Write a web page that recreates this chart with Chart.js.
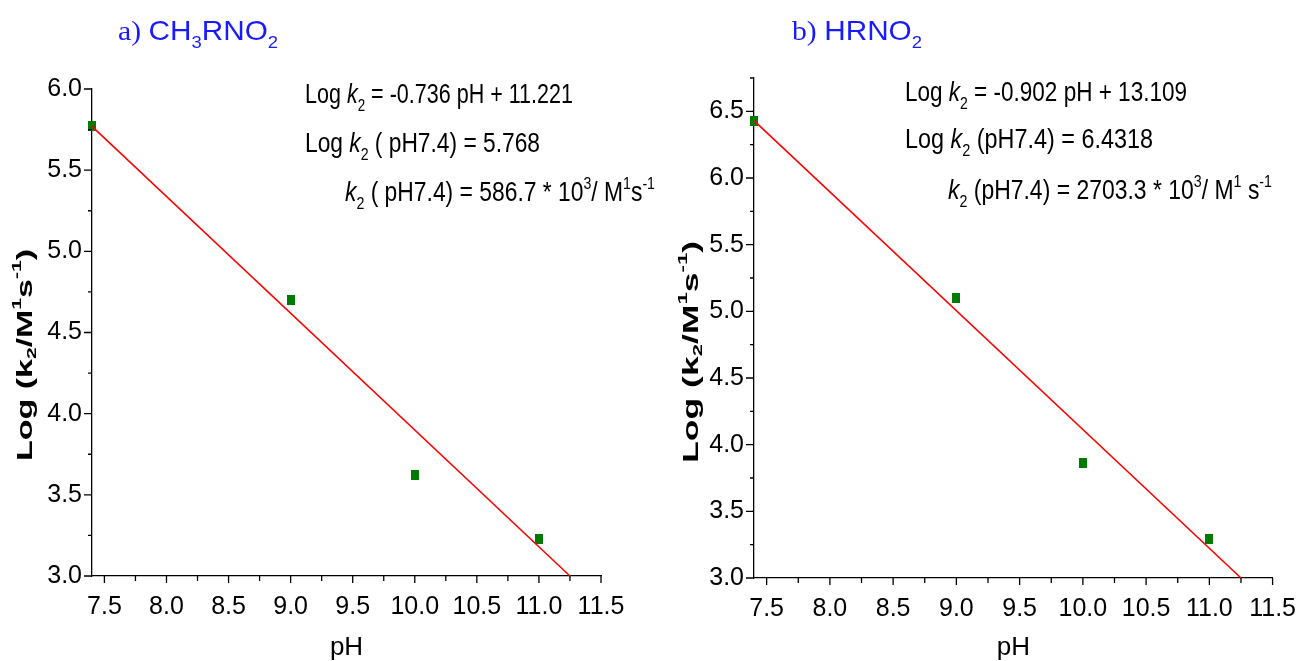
<!DOCTYPE html>
<html>
<head>
<meta charset="utf-8">
<script src="https://cdn.jsdelivr.net/npm/chart.js@4.4.1/dist/chart.umd.min.js"></script>
<style>
  html, body { margin: 0; padding: 0; background: #fff; }
  #wrap { position: relative; width: 1312px; height: 661px; overflow: hidden; }
  canvas { position: absolute; top: 0; }
  #chartA { left: 0; }
  #chartB { left: 656px; }
</style>
</head>
<body>
<div id="wrap">
  <canvas id="chartA" width="700" height="661"></canvas>
  <canvas id="chartB" width="656" height="661"></canvas>
</div>
<script>
// measured pH values
const phValues = [7.4, 9.0, 10.0, 11.0];
// log k2
const logK2Methyl = [5.77, 4.70, 3.62, 3.23];
const logK2Hydro = [6.43, 5.10, 3.86, 3.29];
// end points of the fitted lines (as drawn)
const fitPh = [7.4, 11.25];
const fitMethyl = [5.77, 3.0];
const fitHydro = [6.43, 3.0];
// labelled ticks
const xTicks = [7.5, 8.0, 8.5, 9.0, 9.5, 10.0, 10.5, 11.0, 11.5];
const yTicksA = [3.0, 3.5, 4.0, 4.5, 5.0, 5.5, 6.0];
const yTicksB = [3.0, 3.5, 4.0, 4.5, 5.0, 5.5, 6.0, 6.5];

const SANS = "'Liberation Sans', Arial, sans-serif";
const SERIF = "'Liberation Serif', 'Times New Roman', serif";

// small green rectangle used as marker
const marker = document.createElement('canvas');
marker.width = 8;
marker.height = 10;
const mctx = marker.getContext('2d');
mctx.fillStyle = '#007a00';
mctx.fillRect(0, 0, 8, 10);

// draws a run of text pieces (italic / sub / sup), fitted to a given width
function drawRich(ctx, t) {
  const size = t.size;
  const fontOf = p => {
    const s = (p.sub || p.sup) ? size * 0.62 : size;
    return (p.i ? 'italic ' : '') + (t.bold ? 'bold ' : '') + s + 'px ' + (p.serif ? SERIF : SANS);
  };
  let total = 0;
  t.parts.forEach(p => { ctx.font = fontOf(p); total += ctx.measureText(p.t).width; });
  const sx = t.w ? t.w / total : 1;
  ctx.save();
  ctx.translate(t.x, t.y);
  if (t.rot) ctx.rotate(t.rot);
  ctx.scale(sx, 1);
  ctx.fillStyle = t.color || '#000';
  ctx.textBaseline = t.rot ? 'middle' : 'alphabetic';
  let cx = t.rot ? -total / 2 : 0;
  t.parts.forEach(p => {
    ctx.font = fontOf(p);
    let dy = 0;
    if (p.sub) dy = size * 0.3;
    if (p.sup) dy = -size * 0.42;
    ctx.fillText(p.t, cx, dy);
    cx += ctx.measureText(p.t).width;
  });
  ctx.restore();
}

const extrasPlugin = {
  id: 'extras',
  afterDraw(chart, args, opts) {
    const { ctx, scales: { x, y } } = chart;
    ctx.save();
    ctx.strokeStyle = '#000';
    ctx.lineWidth = 1.3;
    ctx.beginPath();
    // x ticks, major and minor, pointing down
    xTicks.forEach(v => {
      const px = x.getPixelForValue(v);
      ctx.moveTo(px, y.bottom); ctx.lineTo(px, y.bottom + 7);
      if (v + 0.25 <= x.max) {
        const mx = x.getPixelForValue(v + 0.25);
        ctx.moveTo(mx, y.bottom); ctx.lineTo(mx, y.bottom + 5);
      }
    });
    // y ticks, pointing left
    opts.yTicks.forEach(v => {
      const py = y.getPixelForValue(v);
      ctx.moveTo(x.left, py); ctx.lineTo(x.left - 8, py);
      if (v + 0.25 <= y.max) {
        const my = y.getPixelForValue(v + 0.25);
        ctx.moveTo(x.left, my); ctx.lineTo(x.left - 4, my);
      }
    });
    ctx.stroke();
    ctx.restore();

    opts.texts.forEach(t => drawRich(ctx, t));
  }
};

function makeChart(id, values, fitValues, yTicks, yMax, box, texts) {
  const scatterData = phValues.map((p, i) => ({ x: p, y: values[i] }));
  const fitData = fitPh.map((p, i) => ({ x: p, y: fitValues[i] }));
  return new Chart(document.getElementById(id), {
    type: 'scatter',
    data: {
      datasets: [
        {
          type: 'line',
          data: fitData,
          borderColor: '#ff0000',
          borderWidth: 1.6,
          pointRadius: 0,
          fill: false,
          clip: false
        },
        {
          data: scatterData,
          pointStyle: marker,
          pointRadius: 5,
          clip: false
        }
      ]
    },
    options: {
      responsive: false,
      animation: false,
      layout: { padding: { left: 0, top: box.top, right: box.right, bottom: 0 } },
      plugins: {
        legend: { display: false },
        tooltip: { enabled: false },
        extras: { yTicks: yTicks, texts: texts }
      },
      scales: {
        x: {
          type: 'linear',
          min: 7.4,
          max: 11.5,
          afterFit: s => { s.height = box.xHeight; },
          afterBuildTicks: s => { s.ticks = xTicks.map(v => ({ value: v })); },
          grid: { display: false, drawTicks: false },
          border: { display: true, color: '#000', width: 1.3 },
          ticks: {
            padding: 16, color: '#000', autoSkip: false, maxRotation: 0,
            font: { family: SANS, size: 25 },
            callback: v => Number(v).toFixed(1)
          },
          title: {
            display: true, text: 'pH', color: '#000',
            font: { family: SANS, size: 26, lineHeight: 1 },
            padding: { top: 0, bottom: 0 }
          }
        },
        y: {
          type: 'linear',
          min: 3.0,
          max: yMax,
          afterFit: s => { s.width = box.yWidth; },
          afterBuildTicks: s => { s.ticks = yTicks.map(v => ({ value: v })); },
          grid: { display: false, drawTicks: false },
          border: { display: true, color: '#000', width: 1.3 },
          ticks: {
            padding: 10, color: '#000', autoSkip: false,
            font: { family: SANS, size: 25 },
            callback: v => Number(v).toFixed(1)
          }
        }
      }
    },
    plugins: [extrasPlugin]
  });
}

const yTitleParts = [
  { t: 'Log (k' }, { t: '2', sub: true }, { t: '/M' }, { t: '1', sup: true },
  { t: 's' }, { t: '-1', sup: true }, { t: ')' }
];

const textsA = [
  { x: 118, y: 40, size: 28, w: 160, color: '#1a1aff', parts: [
    { t: 'a) ', serif: true }, { t: 'CH' }, { t: '3', sub: true }, { t: 'RNO' }, { t: '2', sub: true }] },
  { x: 305, y: 103, size: 28, w: 268, parts: [
    { t: 'Log ' }, { t: 'k', i: true }, { t: '2', sub: true }, { t: ' = -0.736 pH + 11.221' }] },
  { x: 305, y: 152, size: 28, w: 235, parts: [
    { t: 'Log ' }, { t: 'k', i: true }, { t: '2', sub: true }, { t: ' ( pH7.4) = 5.768' }] },
  { x: 345, y: 201, size: 28, w: 310, parts: [
    { t: 'k', i: true }, { t: '2', sub: true }, { t: ' ( pH7.4) = 586.7 * 10' }, { t: '3', sup: true },
    { t: '/ M' }, { t: '1', sup: true }, { t: 's' }, { t: '-1', sup: true }] },
  { x: 26, y: 355, size: 22, w: 212, bold: true, rot: -Math.PI / 2, parts: yTitleParts }
];

const textsB = [
  { x: 136, y: 40, size: 28, w: 130, color: '#1a1aff', parts: [
    { t: 'b) ', serif: true }, { t: 'HRNO' }, { t: '2', sub: true }] },
  { x: 249, y: 101, size: 28, w: 282, parts: [
    { t: 'Log ' }, { t: 'k', i: true }, { t: '2', sub: true }, { t: ' = -0.902 pH + 13.109' }] },
  { x: 249, y: 148, size: 28, w: 248, parts: [
    { t: 'Log ' }, { t: 'k', i: true }, { t: '2', sub: true }, { t: ' (pH7.4) = 6.4318' }] },
  { x: 292, y: 199, size: 28, w: 324, parts: [
    { t: 'k', i: true }, { t: '2', sub: true }, { t: ' (pH7.4) = 2703.3 * 10' }, { t: '3', sup: true },
    { t: '/ M' }, { t: '1', sup: true }, { t: ' s' }, { t: '-1', sup: true }] },
  { x: 36, y: 352, size: 22, w: 222, bold: true, rot: -Math.PI / 2, parts: yTitleParts }
];

makeChart('chartA', logK2Methyl, fitMethyl, yTicksA, 6.0,
  { top: 89, right: 99, xHeight: 85, yWidth: 92 }, textsA);
makeChart('chartB', logK2Hydro, fitHydro, yTicksB, 6.75,
  { top: 78, right: 29, xHeight: 83, yWidth: 98 }, textsB);
</script>
</body>
</html>
